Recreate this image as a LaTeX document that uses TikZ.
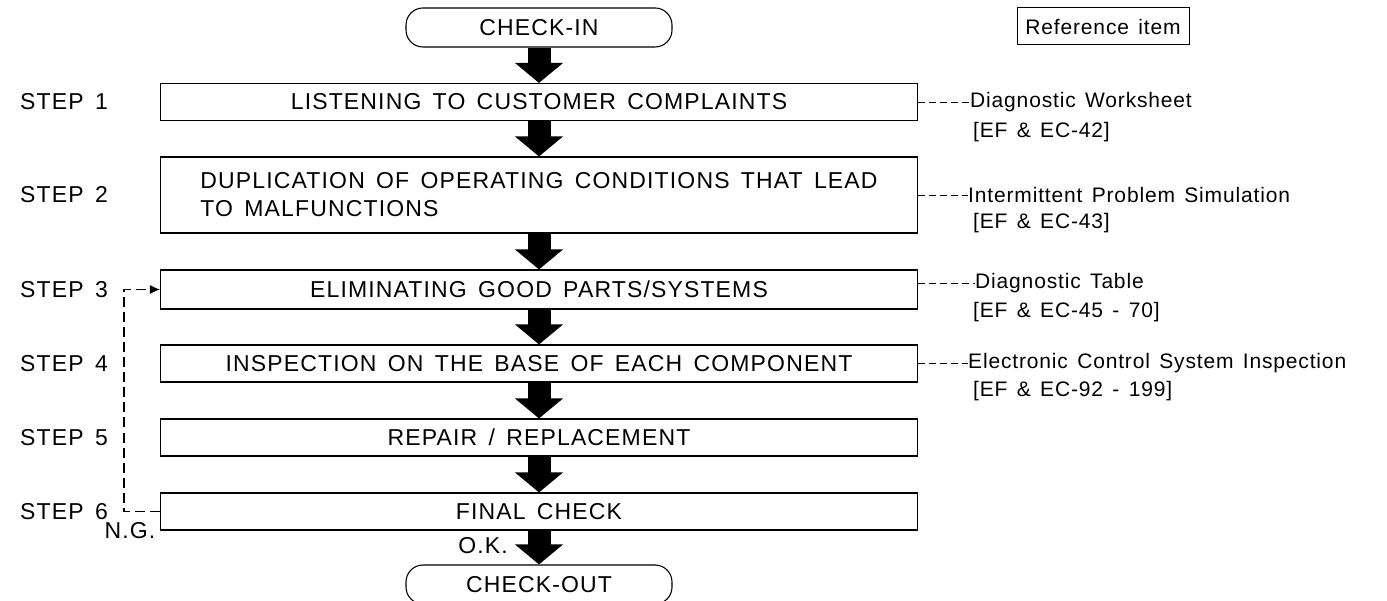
\documentclass[tikz,border=0pt]{standalone}
\usepackage{fontspec}
\setmainfont{Liberation Sans}[LetterSpace=4, WordSpace=1.4]
\newfontfamily\capsfont{Liberation Sans}[LetterSpace=5, WordSpace=1.5]
\usetikzlibrary{arrows.meta,positioning}

\begin{document}
\begin{tikzpicture}[x=1pt, y=-1pt,
  every node/.style={font=\capsfont\fontsize{23}{28}\selectfont, inner sep=0pt},
  reftext/.style={anchor=west, font=\fontsize{21}{26}\selectfont},
  stepbox/.style={draw, line width=1.1pt, minimum width=757pt, minimum height=37pt},
  endbox/.style={draw, line width=1.1pt, rounded corners=17pt, minimum width=266pt, minimum height=39pt},
  flow/.style={line width=23pt, -{Triangle[width=47pt, length=20pt]}},
  refline/.style={line width=0.9pt, dash pattern=on 7pt off 4pt},
  loopline/.style={line width=1.1pt, dash pattern=on 10pt off 5pt}]
\useasboundingbox (0,0) rectangle (1387,601);

% Main flow
\node[endbox] (checkin) at (539,27.5) {CHECK-IN};
\node[stepbox] (s1) at (539,102) {LISTENING TO CUSTOMER COMPLAINTS};
\node[stepbox, minimum height=76pt, align=left] (s2) at (539,195)
  {DUPLICATION OF OPERATING CONDITIONS THAT LEAD\\TO MALFUNCTIONS};
\node[stepbox, minimum height=39pt] (s3) at (539,289.5) {ELIMINATING GOOD PARTS/SYSTEMS};
\node[stepbox] (s4) at (539,363.5) {INSPECTION ON THE BASE OF EACH COMPONENT};
\node[stepbox] (s5) at (539,437.5) {REPAIR / REPLACEMENT};
\node[stepbox] (s6) at (539,511.5) {FINAL CHECK};
\node[endbox] (checkout) at (539,584.5) {CHECK-OUT};

\draw[flow] (checkin.south) -- (s1.north);
\draw[flow] (s1.south) -- (s2.north);
\draw[flow] (s2.south) -- (s3.north);
\draw[flow] (s3.south) -- (s4.north);
\draw[flow] (s4.south) -- (s5.north);
\draw[flow] (s5.south) -- (s6.north);
\draw[flow] (s6.south) -- (checkout.north);

% Step labels
\foreach \n/\y in {1/102, 2/195, 3/289.5, 4/363.5, 5/437.5, 6/511.5}
  \node[anchor=west] (step\n) at (20,\y) {STEP\ \n};

% Loop back from final check
\draw[loopline, -{Latex[length=10pt, width=9pt]}] (s6.west) -- ++(-36,0) |- (s3.west);
\node (ng) at (130,531) {N.G.};
\node (ok) at (483,546) {O.K.};

% Reference items
\node[draw, line width=1pt, minimum width=172pt, minimum height=37pt, font=\fontsize{21}{26}\selectfont] (refitem) at (1103,26.5) {Reference item};
\node[reftext] (r1) at (970,102) {Diagnostic Worksheet};
\node[reftext] (r1b) at (973,132) {[EF \& EC-42]};
\node[reftext] (r2) at (968,195) {Intermittent Problem Simulation};
\node[reftext] (r2b) at (973,223) {[EF \& EC-43]};
\node[reftext] (r3) at (975,283) {Diagnostic Table};
\node[reftext] (r3b) at (973,312) {[EF \& EC-45 - 70]};
\node[reftext] (r4) at (968,363.5) {Electronic Control System Inspection};
\node[reftext] (r4b) at (973,391) {[EF \& EC-92 - 199]};

\draw[refline] (s1.east) -- (r1.west);
\draw[refline] (s2.east) -- (r2.west);
\draw[refline] (s3.east |- r3.west) -- (r3.west);
\draw[refline] (s4.east) -- (r4.west);
\end{tikzpicture}
\end{document}
